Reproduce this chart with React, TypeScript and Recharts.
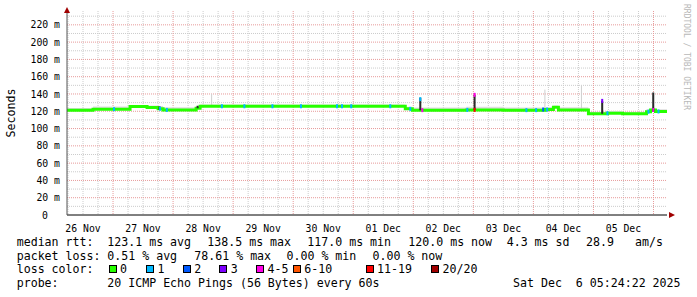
import { ComposedChart, Line, Area, Scatter, XAxis, YAxis, CartesianGrid, ReferenceDot } from 'recharts';

// time axis in hours since 26 Nov 00:00
const startHour = 5.6;
const endHour = 245.4;

const dayTicks = [12, 36, 60, 84, 108, 132, 156, 180, 204, 228];
const dayLabels = ['26 Nov', '27 Nov', '28 Nov', '29 Nov', '30 Nov', '01 Dec', '02 Dec', '03 Dec', '04 Dec', '05 Dec'];
const yTicks = [0, 20, 40, 60, 80, 100, 120, 140, 160, 180, 200, 220];

// median rtt steps (ms)
const medianTimes = [5.6, 16, 30.8, 37.6, 42, 44, 57.2, 58.8, 140.8, 143.6, 165.2, 180, 196.8, 200, 202, 214, 221.6, 227.6, 237.2, 238.8, 240.8, 245.4];
const medianValues = [121.2, 122.4, 125.4, 124.3, 123.0, 121.6, 123.5, 125.8, 122.8, 121.3, 121.6, 121.3, 122.0, 124.7, 121.6, 117.0, 117.8, 117.0, 119.5, 121.5, 119.8, 120.0];
const smokeSpread = [2.5, 3, 2, 2.5, 3, 3, 2, 2, 2.5, 3, 3.5, 3, 3, 2, 3, 2.5, 2.5, 2.5, 3, 2.5, 2.5, 2.5];

// dark smoke spikes
const spikeTimes = [42.6, 57.8, 146.8, 168.5, 219.5, 239.9];
const spikeLow = [121.6, 123.5, 121.3, 121.6, 117.0, 119.5];
const spikeHigh = [125.5, 126.5, 135.5, 139.0, 132.0, 141.6];

// light smoke spikes
const lightTimes = [63.4, 196.6, 211.2];
const lightLow = [126, 122, 121.6];
const lightHigh = [140, 145, 150];

// packet loss specks: time, value, colour index
const lossTimes = [24.4, 42.8, 45.5, 67.5, 76.5, 87.7, 99.1, 113.5, 115.5, 119.2, 134.8, 142.8, 147.6, 165.6, 168.5, 189.2, 193.1, 195.9, 197.5, 221.6, 238.0, 242.0, 168.5, 219.5, 239.9, 146.8];
const lossValues = [122.4, 123, 121.6, 125.8, 125.8, 125.8, 125.8, 125.8, 125.8, 125.8, 125.8, 122.8, 121.3, 121.6, 121.6, 121.3, 121.3, 122, 122, 117.8, 119.5, 119.8, 139, 132, 121.5, 134];
const lossIndex = [1, 1, 1, 1, 1, 1, 1, 1, 1, 1, 1, 1, 4, 1, 6, 1, 1, 2, 1, 1, 1, 1, 4, 3, 4, 1];

const lossColors = ['#26ff00', '#00b8ff', '#0059ff', '#7e00ff', '#ff00e6', '#ff5500', '#ff0000', '#a10000'];
const lossNames = ['0', '1', '2', '3', '4-5', '6-10', '11-19', '20/20'];

const medianRows = medianTimes.map((t, i) => ({ t, v: medianValues[i], s: [medianValues[i], medianValues[i] + smokeSpread[i]] }));
const spikeRows = spikeTimes.flatMap((t, i) => [{ t, v: spikeLow[i] }, { t, v: spikeHigh[i] }, { t, v: null }]);
const lightRows = lightTimes.flatMap((t, i) => [{ t, v: lightLow[i] }, { t, v: lightHigh[i] }, { t, v: null }]);
const lossRows = lossTimes.map((t, i) => ({ t, v: lossValues[i], c: lossColors[lossIndex[i]] }));

const minorY = [10, 30, 50, 70, 90, 110, 130, 150, 170, 190, 210, 230];
const majorY = [20, 40, 60, 80, 100, 120, 140, 160, 180, 200, 220];
const minorX = [6, 12, 18, 30, 36, 42, 54, 60, 66, 78, 84, 90, 102, 108, 114, 126, 132, 138, 150, 156, 162, 174, 180, 186, 198, 204, 210, 222, 228, 234];
const majorX = [24, 48, 72, 96, 120, 144, 168, 192, 216, 240];

const mono = '"DejaVu Sans Mono", monospace';
const tickFont = 9.8;

const LossMark = (props: any) => (
  <rect x={props.cx - 1} y={props.cy - 2} width={2} height={4} fill={props.payload.c} />
);

const UpArrow = (props: any) => (
  <path d={`M${props.cx - 3},${props.cy + 2} L${props.cx},${props.cy - 4} L${props.cx + 3},${props.cy + 2} Z`} fill="#a00000" />
);
const RightArrow = (props: any) => (
  <path d={`M${props.cx + 2},${props.cy - 3} L${props.cx + 8},${props.cy} L${props.cx + 2},${props.cy + 3} Z`} fill="#a00000" />
);

const YTick = (props: any) => {
  const v = props.payload.value;
  return (
    <text x={v === 0 ? props.x - 12 : props.x} y={props.y} dy="0.36em" textAnchor="end" fontFamily={mono} fontSize={tickFont} fill="#000">
      {v === 0 ? '0' : `${v} m`}
    </text>
  );
};

const T = ({ x, y, children }: { x: number; y: number; children: any }) => (
  <div style={{ position: 'absolute', left: x, top: y, whiteSpace: 'pre', fontFamily: mono, fontSize: 11.6, lineHeight: '14px', color: '#000' }}>{children}</div>
);

const rows = [235.4, 248.9, 262.4, 276];
const boxXs = [108.5, 146, 182.7, 219.3, 256, 292.7, 365.5, 431];

export default function App() {
  return (
    <div style={{ position: 'absolute', left: 0, top: 0, width: 697, height: 297, background: '#fff', overflow: 'hidden' }}>
      <ComposedChart width={697} height={297} data={medianRows} margin={{ top: 11, right: 30, left: 7, bottom: 52 }}>
        <CartesianGrid horizontalValues={minorY} verticalValues={minorX} stroke="#cccccc" strokeDasharray="1 1" />
        <CartesianGrid horizontalValues={majorY} verticalValues={majorX} stroke="#e79a9a" strokeDasharray="1 1" />
        <XAxis dataKey="t" type="number" domain={[startHour, endHour]} ticks={dayTicks} allowDataOverflow
          tickFormatter={(v: number) => dayLabels[dayTicks.indexOf(v)]} tickLine={false} height={30}
          axisLine={{ stroke: '#000' }} tick={{ fontFamily: mono, fontSize: tickFont, fill: '#000' }} tickMargin={4} interval={0} />
        <YAxis type="number" domain={[0, 236]} ticks={yTicks} allowDataOverflow width={60} tickLine={false} tickSize={0} tickMargin={7}
          tick={<YTick />} axisLine={{ stroke: '#555' }} interval={0}
          label={{ value: 'Seconds', angle: -90, position: 'insideLeft', offset: 4, style: { fontFamily: mono, fontSize: 11.6, fill: '#000', textAnchor: 'middle' } }} />
        <Area dataKey="s" type="stepAfter" stroke="none" fill="#dddddd" fillOpacity={1} isAnimationActive={false} />
        <Line data={lightRows} dataKey="v" stroke="#cfcfcf" strokeWidth={1} dot={false} isAnimationActive={false} />
        <Line dataKey="v" type="stepAfter" stroke="#26ff00" strokeWidth={3} dot={false} isAnimationActive={false} />
        <Line data={spikeRows} dataKey="v" stroke="#2a2a2a" strokeWidth={2} dot={false} isAnimationActive={false} />
        <Scatter data={lossRows} dataKey="v" shape={LossMark} isAnimationActive={false} />
        <ReferenceDot x={startHour} y={236} ifOverflow="visible" shape={UpArrow} />
        <ReferenceDot x={endHour} y={0} ifOverflow="visible" shape={RightArrow} />
      </ComposedChart>

      <div style={{ position: 'absolute', left: 680, top: 4, width: 12, height: 112, writingMode: 'vertical-rl', fontFamily: mono, fontSize: 8, color: '#b8b8b8', lineHeight: '12px' }}>
        RRDTOOL / TOBI OETIKER
      </div>

      <T x={16.7} y={rows[0]}>median rtt:</T>
      <T x={107.3} y={rows[0]}>123.1 ms avg</T>
      <T x={207.3} y={rows[0]}>138.5 ms max</T>
      <T x={307.3} y={rows[0]}>117.0 ms min</T>
      <T x={408.3} y={rows[0]}>120.0 ms now</T>
      <T x={506.7} y={rows[0]}>4.3 ms sd</T>
      <T x={586} y={rows[0]}>28.9</T>
      <T x={635} y={rows[0]}>am/s</T>

      <T x={16.7} y={rows[1]}>packet loss:</T>
      <T x={107.3} y={rows[1]}>0.51 % avg</T>
      <T x={194.3} y={rows[1]}>78.61 % max</T>
      <T x={286.5} y={rows[1]}>0.00 % min</T>
      <T x={372.5} y={rows[1]}>0.00 % now</T>

      <T x={16.7} y={rows[2]}>loss color:</T>
      {lossNames.map((name, i) => (
        <div key={name}>
          <div style={{ position: 'absolute', left: boxXs[i], top: 265, width: 6, height: 6, background: lossColors[i], border: '1px solid #000' }} />
          <T x={boxXs[i] + 11.5} y={rows[2]}>{name}</T>
        </div>
      ))}

      <T x={16.7} y={rows[3]}>probe:</T>
      <T x={107.3} y={rows[3]}>20 ICMP Echo Pings (56 Bytes) every 60s</T>
      <T x={513} y={rows[3]}>Sat Dec  6 05:24:22 2025</T>
    </div>
  );
}
